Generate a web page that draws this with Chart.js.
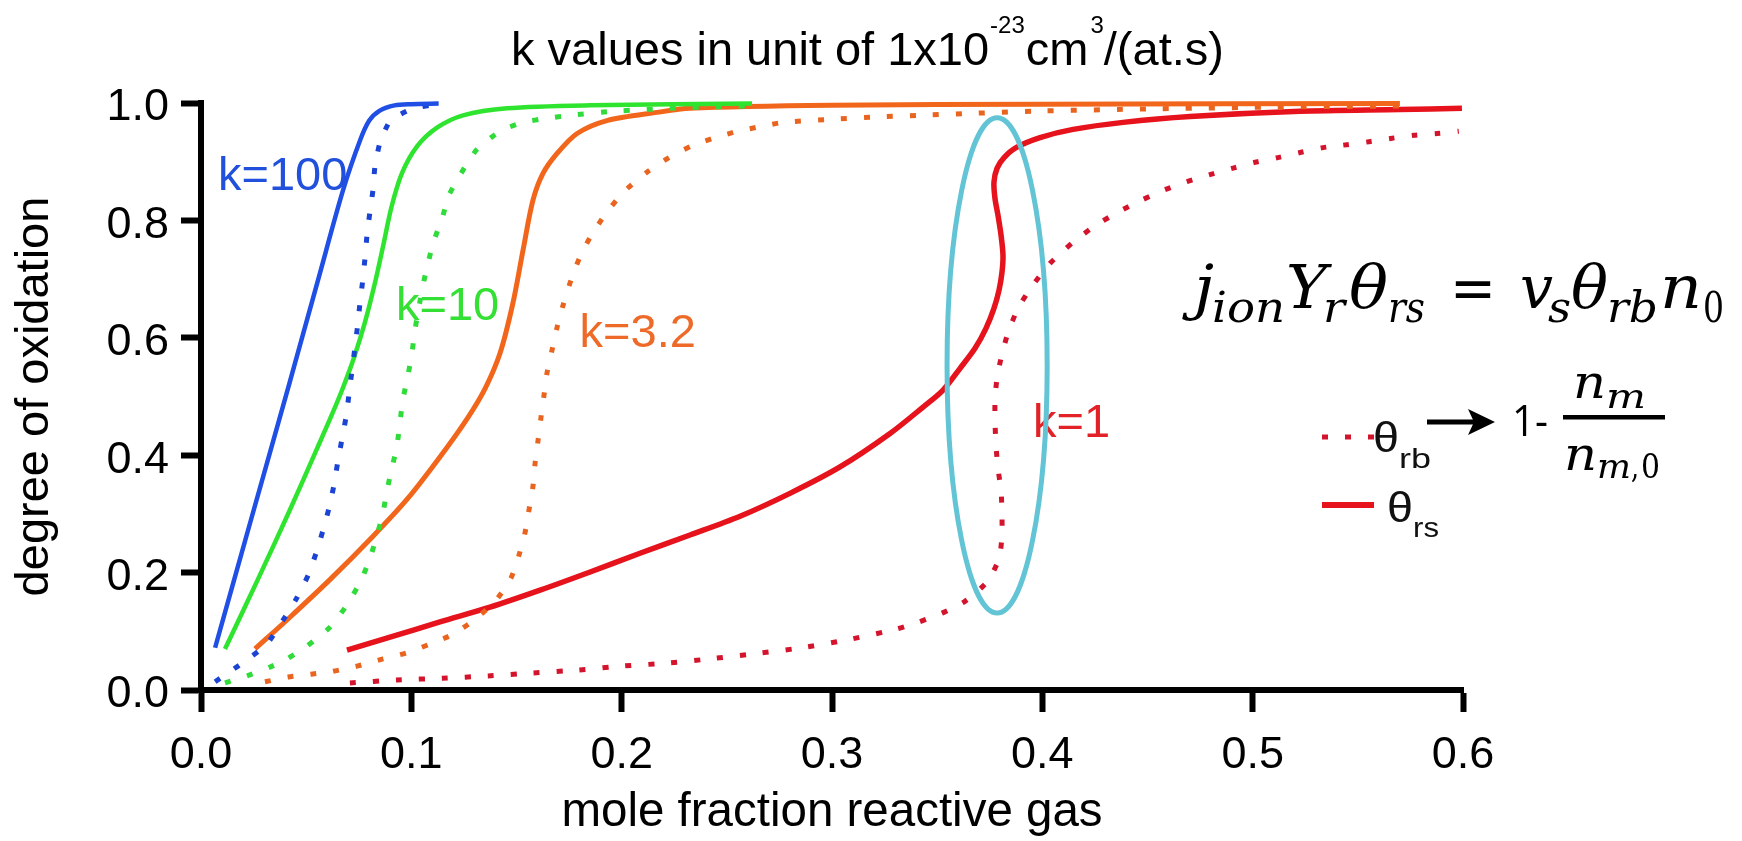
<!DOCTYPE html>
<html>
<head>
<meta charset="utf-8">
<title>Degree of oxidation vs reactive gas fraction</title>
<script src="https://cdn.jsdelivr.net/npm/chart.js@4.4.1/dist/chart.umd.min.js"></script>
<style>
  html, body { margin: 0; padding: 0; background: #ffffff; }
  #wrap { width: 1742px; height: 841px; position: relative; }
</style>
</head>
<body>
<div id="wrap"><canvas id="c" width="1742" height="841"></canvas></div>
<script>
// ---- data: [mole fraction, degree of oxidation] ----
// theta_rs (surface, solid) and theta_rb (bulk, dotted) for each rate constant k
const k100Surface = [[0.0067,0.072],[0.024,0.293],[0.042,0.522],[0.056,0.703],[0.0675,0.851],[0.0756,0.936],[0.080,0.970],[0.085,0.987],[0.092,0.996],[0.100,0.998],[0.113,0.999]];
const k100Bulk = [[0.0067,0.014],[0.0185,0.043],[0.031,0.077],[0.039,0.119],[0.0456,0.157],[0.051,0.196],[0.0547,0.233],[0.058,0.272],[0.061,0.312],[0.0632,0.349],[0.065,0.388],[0.067,0.427],[0.069,0.466],[0.0704,0.505],[0.0718,0.545],[0.0732,0.584],[0.0746,0.625],[0.0756,0.660],[0.077,0.701],[0.078,0.737],[0.079,0.778],[0.0803,0.814],[0.0818,0.853],[0.0827,0.892],[0.085,0.931],[0.0899,0.969],[0.1003,0.990],[0.112,0.998]];

const k10Surface = [[0.0114,0.070],[0.0266,0.185],[0.0423,0.307],[0.055,0.410],[0.0615,0.463],[0.0675,0.515],[0.073,0.569],[0.078,0.627],[0.0828,0.695],[0.0868,0.760],[0.0905,0.822],[0.0955,0.880],[0.1027,0.926],[0.1122,0.958],[0.1246,0.979],[0.1455,0.991],[0.185,0.996],[0.262,0.999]];
const k10Bulk = [[0.0114,0.012],[0.0219,0.024],[0.0328,0.039],[0.0409,0.053],[0.0504,0.075],[0.0613,0.107],[0.0694,0.145],[0.076,0.186],[0.0804,0.225],[0.0837,0.264],[0.0865,0.301],[0.0884,0.340],[0.0908,0.378],[0.0932,0.417],[0.0946,0.456],[0.096,0.495],[0.0984,0.536],[0.1003,0.574],[0.1017,0.613],[0.1035,0.650],[0.1055,0.689],[0.1079,0.727],[0.1108,0.766],[0.1146,0.803],[0.1179,0.843],[0.1236,0.880],[0.1312,0.921],[0.1422,0.952],[0.1531,0.967],[0.1645,0.974],[0.1754,0.979],[0.1968,0.986],[0.23,0.992],[0.262,0.995]];

const k3Surface = [[0.0257,0.070],[0.0423,0.124],[0.0613,0.188],[0.0818,0.262],[0.098,0.325],[0.1136,0.397],[0.1265,0.462],[0.135,0.513],[0.1422,0.574],[0.1483,0.659],[0.1531,0.749],[0.1578,0.834],[0.1626,0.880],[0.1693,0.914],[0.1788,0.948],[0.193,0.970],[0.2168,0.984],[0.2325,0.991],[0.30,0.996],[0.40,0.998],[0.570,0.999]];
const k3Bulk = [[0.0304,0.014],[0.0414,0.022],[0.0523,0.027],[0.0628,0.032],[0.0746,0.041],[0.0865,0.053],[0.0975,0.063],[0.108,0.077],[0.1193,0.094],[0.1298,0.119],[0.1403,0.153],[0.1474,0.191],[0.1512,0.230],[0.154,0.267],[0.156,0.308],[0.1578,0.346],[0.1588,0.385],[0.1602,0.424],[0.1616,0.463],[0.163,0.500],[0.1645,0.540],[0.1669,0.579],[0.1693,0.618],[0.1721,0.655],[0.1754,0.693],[0.1797,0.734],[0.185,0.771],[0.1921,0.810],[0.2011,0.849],[0.212,0.882],[0.2225,0.907],[0.234,0.928],[0.2444,0.941],[0.2553,0.952],[0.2662,0.960],[0.2767,0.967],[0.2986,0.972],[0.3204,0.976],[0.3418,0.979],[0.3637,0.982],[0.3956,0.986],[0.45,0.990],[0.51,0.993],[0.570,0.995]];

const k1Surface = [[0.0694,0.068],[0.0899,0.090],[0.1136,0.116],[0.1374,0.141],[0.1612,0.170],[0.185,0.201],[0.2087,0.233],[0.2325,0.264],[0.2563,0.296],[0.28,0.335],[0.3038,0.380],[0.3276,0.437],[0.3433,0.482],[0.3528,0.511],[0.3609,0.548],[0.3680,0.582],[0.3732,0.616],[0.3770,0.650],[0.3794,0.681],[0.3808,0.711],[0.3813,0.740],[0.3804,0.774],[0.3789,0.809],[0.3775,0.837],[0.3770,0.865],[0.3785,0.889],[0.3818,0.907],[0.3875,0.924],[0.3989,0.941],[0.4146,0.955],[0.4384,0.967],[0.4702,0.977],[0.5225,0.986],[0.570,0.989],[0.5995,0.991]];
const k1Bulk = [[0.0708,0.012],[0.0932,0.017],[0.1146,0.020],[0.1365,0.024],[0.1578,0.029],[0.1792,0.034],[0.2011,0.041],[0.2225,0.046],[0.2444,0.054],[0.2662,0.063],[0.2876,0.073],[0.3095,0.087],[0.3309,0.104],[0.3414,0.116],[0.3523,0.131],[0.3632,0.151],[0.3737,0.184],[0.3794,0.223],[0.3808,0.262],[0.3808,0.301],[0.3804,0.339],[0.3789,0.378],[0.378,0.415],[0.3775,0.456],[0.3775,0.495],[0.3785,0.533],[0.3808,0.572],[0.3837,0.609],[0.3884,0.650],[0.3951,0.688],[0.4037,0.727],[0.4146,0.763],[0.4255,0.792],[0.436,0.814],[0.4469,0.834],[0.4574,0.851],[0.4688,0.866],[0.4797,0.878],[0.4907,0.889],[0.5011,0.899],[0.512,0.907],[0.523,0.916],[0.5334,0.924],[0.5449,0.929],[0.5553,0.934],[0.5663,0.940],[0.5767,0.945],[0.5876,0.948],[0.598,0.952]];

const kValues = ['100', '10', '3.2', '1'];
const xTicks = [0, 0.1, 0.2, 0.3, 0.4, 0.5, 0.6];
const yTicks = [0, 0.2, 0.4, 0.6, 0.8, 1.0];

// ---- styling ----
const SANS = '"Liberation Sans", Arial, Helvetica, sans-serif';
const MATH = '"DejaVu Serif", serif';
const C = {
  blue: '#1f4fe4', blueDot: '#1b43d4',
  green: '#2fe42f', greenDot: '#2fdc3a',
  orange: '#f2661c', orangeDot: '#e8641f',
  red: '#e6121c', redDot: '#d4142c',
  cyan: '#62c4d4'
};
const DOT = [6, 17];

function pts(list) { return list.map(([x, y]) => ({ x, y })); }
function solid(label, list, color, w) {
  return { label, data: pts(list), borderColor: color, borderWidth: w, fill: false, tension: 0.3, pointRadius: 0, clip: false };
}
function dotted(label, list, color) {
  return { label, data: pts(list), borderColor: color, borderWidth: 5, borderDash: DOT, borderCapStyle: 'butt', fill: false, tension: 0.2, pointRadius: 0, clip: false };
}

// first dataset is painted last (on top)
const datasets = [
  solid('k=100 θrs', k100Surface, C.blue, 4.5),
  dotted('k=100 θrb', k100Bulk, C.blueDot),
  solid('k=10 θrs', k10Surface, C.green, 4.5),
  dotted('k=10 θrb', k10Bulk, C.greenDot),
  solid('k=3.2 θrs', k3Surface, C.orange, 5),
  dotted('k=3.2 θrb', k3Bulk, C.orangeDot),
  solid('k=1 θrs', k1Surface, C.red, 5.5),
  dotted('k=1 θrb', k1Bulk, C.redDot)
];

// curve captions, anchored in data units (left, baseline)
const captions = [
  { text: 'k=' + kValues[0], at: [0.0081, 0.851], color: '#2150dc' },
  { text: 'k=' + kValues[1], at: [0.0927, 0.630], color: '#33e033' },
  { text: 'k=' + kValues[2], at: [0.1800, 0.584], color: '#ee6a28' },
  { text: 'k=' + kValues[3], at: [0.3956, 0.431], color: '#e22226' }
];
// highlighted S-shaped region: centre and half-axes in data units
const highlight = { cx: 0.3785, cy: 0.553, rx: 0.0238, ry: 0.422 };

function piece(ctx, str, left, baseline, font, width) {
  ctx.save();
  ctx.font = font;
  const w = ctx.measureText(str).width;
  ctx.translate(left, baseline);
  if (width) ctx.scale(width / w, 1);
  ctx.textAlign = 'left';
  ctx.textBaseline = 'alphabetic';
  ctx.fillText(str, 0, 0);
  ctx.restore();
}

const decorations = {
  id: 'decorations',
  afterDatasetsDraw(chart) {
    const { ctx, scales: { x, y } } = chart;
    ctx.save();
    ctx.font = '47px ' + SANS;
    ctx.textAlign = 'left';
    ctx.textBaseline = 'alphabetic';
    captions.forEach(c => {
      ctx.fillStyle = c.color;
      ctx.fillText(c.text, x.getPixelForValue(c.at[0]), y.getPixelForValue(c.at[1]));
    });
    const cx = x.getPixelForValue(highlight.cx), cy = y.getPixelForValue(highlight.cy);
    const rx = x.getPixelForValue(highlight.cx + highlight.rx) - cx;
    const ry = cy - y.getPixelForValue(highlight.cy + highlight.ry);
    ctx.beginPath();
    ctx.ellipse(cx, cy, rx, ry, 0, 0, Math.PI * 2);
    ctx.strokeStyle = C.cyan;
    ctx.lineWidth = 5;
    ctx.stroke();
    ctx.restore();
  },
  afterDraw(chart) {
    const ctx = chart.ctx;
    ctx.save();
    ctx.fillStyle = '#000';

    // title with superscripts
    let tx = 511;
    const tb = 65;
    const seg = (s, font, base) => { ctx.font = font; ctx.fillText(s, tx, base); tx += ctx.measureText(s).width; };
    ctx.textAlign = 'left';
    ctx.textBaseline = 'alphabetic';
    seg('k values in unit of 1x10', '47px ' + SANS, tb);
    tx += 1;
    seg('-23', '24px ' + SANS, 33);
    tx += 1;
    seg('cm', '47px ' + SANS, tb);
    tx += 2;
    seg('3', '24px ' + SANS, 33);
    seg('/(at.s)', '47px ' + SANS, tb);

    // balance equation
    const MI = 'italic 60px ' + MATH, SI = 'italic 42px ' + MATH;
    const MU = '60px ' + MATH, SU = '42px ' + MATH;
    const b1 = 308, s1 = 322;
    piece(ctx, 'j', 1194, b1, MI, 20);
    piece(ctx, 'ion', 1212, s1, SI, 73);
    piece(ctx, 'Y', 1286, b1, MI, 41);
    piece(ctx, 'r', 1323, s1, SI, 22);
    piece(ctx, 'θ', 1349, b1, MI, 39);
    piece(ctx, 'rs', 1388, s1, SI, 37);
    piece(ctx, '=', 1450, b1, MU, 46);
    piece(ctx, 'v', 1520, b1, MI, 33);
    piece(ctx, 's', 1548, s1, SI, 23);
    piece(ctx, 'θ', 1571, b1, MI, 37);
    piece(ctx, 'rb', 1607, s1, SI, 51);
    piece(ctx, 'n', 1660, b1, MI, 42);
    piece(ctx, '0', 1703, s1, SU, 21);

    // arrow and 1 - nm / nm,0
    ctx.strokeStyle = '#000';
    ctx.lineWidth = 5;
    ctx.beginPath(); ctx.moveTo(1427, 422); ctx.lineTo(1478, 422); ctx.stroke();
    ctx.beginPath(); ctx.moveTo(1468, 409); ctx.lineTo(1495, 422); ctx.lineTo(1468, 435); ctx.lineTo(1474, 422); ctx.closePath(); ctx.fill();
    piece(ctx, '1-', 1512, 436, '44px "Open Sans", sans-serif', 36);
    ctx.fillRect(1563, 415, 102, 4.5);
    piece(ctx, 'n', 1573, 398, 'italic 46px ' + MATH, 33);
    piece(ctx, 'm', 1606, 408, 'italic 33px ' + MATH, 40);
    piece(ctx, 'n', 1564, 470, 'italic 46px ' + MATH, 33);
    piece(ctx, 'm', 1597, 478, 'italic 33px ' + MATH, 34);
    piece(ctx, ',', 1631, 478, '33px ' + MATH, 8);
    piece(ctx, '0', 1641, 478, '33px ' + MATH, 19);

    // line-style key
    ctx.strokeStyle = C.redDot;
    ctx.lineWidth = 5;
    ctx.setLineDash(DOT);
    ctx.lineCap = 'butt';
    ctx.beginPath(); ctx.moveTo(1322, 437); ctx.lineTo(1374, 437); ctx.stroke();
    ctx.setLineDash([]);
    ctx.strokeStyle = C.red;
    ctx.lineWidth = 6;
    ctx.beginPath(); ctx.moveTo(1322, 505); ctx.lineTo(1374, 505); ctx.stroke();
    ctx.fillStyle = '#111';
    piece(ctx, 'θ', 1373, 452, '43px ' + SANS, 26);
    piece(ctx, 'rb', 1399, 468, '28px ' + SANS, 32);
    piece(ctx, 'θ', 1387, 522, '43px ' + SANS, 26);
    piece(ctx, 'rs', 1413, 537, '28px ' + SANS, 26);
    ctx.restore();
  }
};

new Chart(document.getElementById('c'), {
  type: 'line',
  data: { datasets },
  plugins: [decorations],
  options: {
    responsive: false,
    animation: false,
    devicePixelRatio: 1,
    layout: { padding: { left: 0, top: 103, right: 279, bottom: 0 } },
    plugins: { legend: { display: false }, tooltip: { enabled: false }, title: { display: false } },
    elements: { point: { radius: 0 } },
    scales: {
      x: {
        type: 'linear', min: xTicks[0], max: xTicks[xTicks.length - 1],
        afterBuildTicks(s) { s.ticks = xTicks.map(v => ({ value: v })); },
        ticks: { callback: v => Number(v).toFixed(1), font: { family: SANS, size: 45 }, color: '#000', padding: 17, maxRotation: 0, autoSkip: false },
        grid: { drawOnChartArea: false, drawTicks: true, tickLength: 22, tickWidth: 6, tickColor: '#000', color: '#000' },
        border: { display: true, width: 6, color: '#000' },
        title: { display: true, text: 'mole fraction reactive gas', font: { family: SANS, size: 47.5 }, color: '#000', padding: { top: 0, bottom: 0 } },
        afterFit(s) { s.height = 151; }
      },
      y: {
        type: 'linear', min: yTicks[0], max: yTicks[yTicks.length - 1],
        afterBuildTicks(s) { s.ticks = yTicks.map(v => ({ value: v })); },
        ticks: { callback: v => Number(v).toFixed(1), font: { family: SANS, size: 45 }, color: '#000', padding: 12, labelOffset: 5 },
        grid: { drawOnChartArea: false, drawTicks: true, tickLength: 20, tickWidth: 6, tickColor: '#000', color: '#000' },
        border: { display: true, width: 6, color: '#000' },
        title: { display: true, text: 'degree of oxidation', font: { family: SANS, size: 47 }, color: '#000', padding: { top: 7, bottom: 0 } },
        afterFit(s) { s.width = 201; }
      }
    }
  }
});
</script>
</body>
</html>
